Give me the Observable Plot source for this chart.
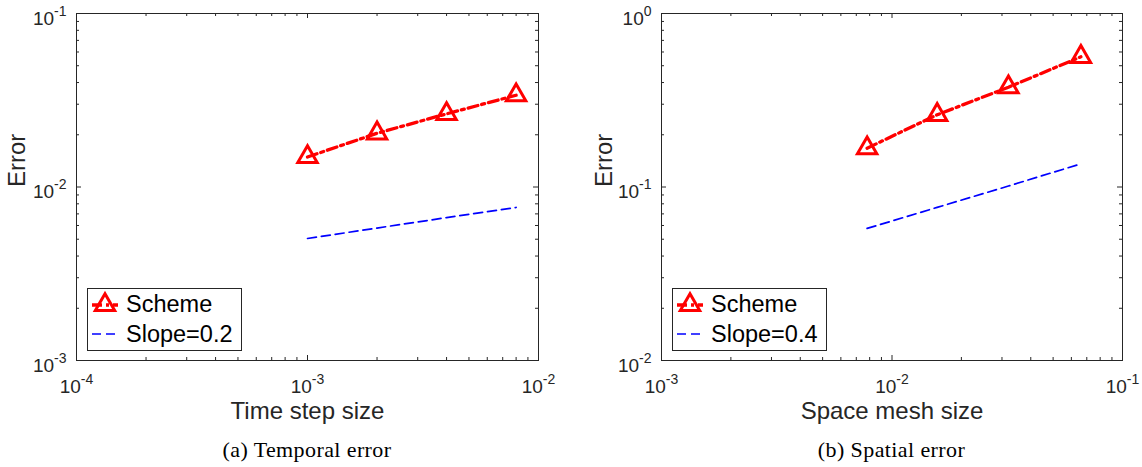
<!DOCTYPE html>
<html><head><meta charset="utf-8">
<script src="https://cdn.jsdelivr.net/npm/d3@7"></script>
<script src="https://cdn.jsdelivr.net/npm/@observablehq/plot@0.6"></script>
<style>
body{margin:0;background:#fff;}
#root{position:relative;width:1142px;height:467px;overflow:hidden;font-family:"Liberation Sans",Arial,sans-serif;}
.panel{position:absolute;top:0;width:571px;height:467px;}
.panel svg.plot{position:absolute;left:0;top:0;}
.caption{position:absolute;top:437px;left:0;width:100%;text-align:center;font-family:"Liberation Serif","DejaVu Serif",serif;font-size:22px;letter-spacing:0.4px;color:#000;white-space:nowrap;}
.legend{position:absolute;top:288px;}
</style>
</head><body><div id="root"></div>
<script>
// ---- data ----
const temporalStep   = [1e-3, 2e-3, 4e-3, 8e-3];
const temporalError  = [0.0149, 0.0204, 0.0264, 0.0338];
const temporalSlope  = [0.00505, 0.0058, 0.00666, 0.00762];
const spatialMesh    = [0.0078, 0.0157, 0.032, 0.066];
const spatialError   = [0.1674, 0.2607, 0.376, 0.563];
const spatialSlope   = [0.0577, 0.0763, 0.1013, 0.136];
const temporalXTicks = [1e-4, 1e-3, 1e-2];
const temporalYTicks = [1e-3, 1e-2, 1e-1];
const spatialXTicks  = [1e-3, 1e-2, 1e-1];
const spatialYTicks  = [1e-2, 1e-1, 1e0];
const seriesNames    = ["Scheme"];
const temporalSlopeName = "Slope=0.2";
const spatialSlopeName  = "Slope=0.4";
const captions = ["(a) Temporal error", "(b) Spatial error"];
const xLabels = ["Time step size", "Space mesh size"];
const yLabel = "Error";

const AX = "#262626";
const W = 571, H = 430, MT = 13, MB = 70;
const FONT = "'Liberation Sans', Arial, sans-serif";

function minorTicks(domain) {
  const out = [];
  const e0 = Math.round(Math.log10(domain[0])), e1 = Math.round(Math.log10(domain[1]));
  for (let e = e0; e < e1; e++) for (let k = 2; k <= 9; k++) out.push(k * Math.pow(10, e));
  return out;
}

function superscriptify(svg) {
  d3.select(svg).selectAll('g[aria-label="x-axis tick label"] text, g[aria-label="y-axis tick label"] text').each(function() {
    const s = this.textContent;
    const [base, exp] = s.split("^");
    const t = d3.select(this);
    t.text(null);
    t.append("tspan").text(base);
    t.append("tspan").attr("font-size", 14).attr("dy", -9).text(exp);
  });
}

function panel(opts) {
  const {left, xDomain, yDomain, xTicks, yTicks, xs, err, slope, xLabel, slopeName, caption, marginLeft, marginRight, yLabelDx} = opts;
  const fw = W - marginLeft - marginRight, fh = H - MT - MB;
  const xMinor = minorTicks(xDomain), yMinor = minorTicks(yDomain);
  const scheme = xs.map((x, i) => ({x, y: err[i]}));
  const ref = xs.map((x, i) => ({x, y: slope[i]}));
  const fmt = d => "10^" + Math.round(Math.log10(d));
  const MJ = 5, MN = 3;
  const plot = Plot.plot({
    width: W, height: H, marginLeft, marginRight, marginTop: MT, marginBottom: MB,
    x: {type: "log", domain: xDomain},
    y: {type: "log", domain: yDomain},
    style: {fontFamily: FONT, color: AX, background: "white", overflow: "visible"},
    marks: [
      // ticks (inside, all four sides)
      Plot.tickX(xTicks, {x: d => d, insetTop: fh - MJ, stroke: AX}),
      Plot.tickX(xTicks, {x: d => d, insetBottom: fh - MJ, stroke: AX}),
      Plot.tickX(xMinor, {x: d => d, insetTop: fh - MN, stroke: AX}),
      Plot.tickX(xMinor, {x: d => d, insetBottom: fh - MN, stroke: AX}),
      Plot.tickY(yTicks, {y: d => d, insetRight: fw - MJ, stroke: AX}),
      Plot.tickY(yTicks, {y: d => d, insetLeft: fw - MJ, stroke: AX}),
      Plot.tickY(yMinor, {y: d => d, insetRight: fw - MN, stroke: AX}),
      Plot.tickY(yMinor, {y: d => d, insetLeft: fw - MN, stroke: AX}),
      Plot.frame({stroke: AX, strokeWidth: 1}),
      Plot.axisX({ticks: xTicks, tickSize: 0, tickPadding: 19, tickFormat: fmt, fontSize: 19, label: null, fill: AX}),
      Plot.axisY({ticks: yTicks, tickSize: 0, tickPadding: 10, tickFormat: fmt, fontSize: 19, label: null, fill: AX, dy: 5}),
      Plot.line(ref, {x: "x", y: "y", stroke: "#0000ff", strokeWidth: 1.7, strokeDasharray: "9,5"}),
      Plot.line(scheme, {x: "x", y: "y", stroke: "#ff0000", strokeWidth: 3.3, strokeDasharray: "10,4,3,4"}),
      Plot.dot(scheme, {x: "x", y: "y", symbol: "triangle", r: 7.2, stroke: "#ff0000", strokeWidth: 3, fill: "none"}),
      Plot.text([xLabel], {frameAnchor: "bottom", dy: 58, fontSize: 24, fill: AX}),
      Plot.text([yLabel], {frameAnchor: "left", rotate: -90, dx: yLabelDx, fontSize: 24, fill: AX})
    ]
  });
  superscriptify(plot);
  const div = document.createElement("div");
  div.className = "panel";
  div.style.left = left + "px";
  div.appendChild(plot);
  // legend
  const lg = d3.create("svg").attr("class", "legend").attr("width", 156).attr("height", 64)
    .style("left", (marginLeft + 11) + "px");
  lg.append("rect").attr("x", 0.5).attr("y", 0.5).attr("width", 154).attr("height", 62)
    .attr("fill", "white").attr("stroke", AX).attr("stroke-width", 1);
  lg.append("line").attr("x1", 5).attr("x2", 31).attr("y1", 17).attr("y2", 17)
    .attr("stroke", "#ff0000").attr("stroke-width", 3.3).attr("stroke-dasharray", "10,4,3,4");
  lg.append("path").attr("d", d3.symbol(d3.symbolTriangle, 7.2 * 7.2 * Math.PI)()).attr("transform", "translate(18,17)")
    .attr("fill", "none").attr("stroke", "#ff0000").attr("stroke-width", 3);
  lg.append("line").attr("x1", 5).attr("x2", 31).attr("y1", 46).attr("y2", 46)
    .attr("stroke", "#0000ff").attr("stroke-width", 1.7).attr("stroke-dasharray", "9,5");
  lg.append("text").attr("x", 39).attr("y", 16).attr("dy", "0.35em").attr("font-size", 23.5)
    .attr("font-family", FONT).text(seriesNames[0]);
  lg.append("text").attr("x", 39).attr("y", 46).attr("dy", "0.35em").attr("font-size", 23.5)
    .attr("font-family", FONT).text(slopeName);
  div.appendChild(lg.node());
  const cap = document.createElement("div");
  cap.className = "caption";
  cap.style.left = (marginLeft + fw / 2 - W / 2) + "px";
  cap.textContent = caption;
  div.appendChild(cap);
  document.getElementById("root").appendChild(div);
}

panel({left: 0, xDomain: [1e-4, 1e-2], yDomain: [1e-3, 1e-1], xTicks: temporalXTicks, yTicks: temporalYTicks,
  xs: temporalStep, err: temporalError, slope: temporalSlope, xLabel: xLabels[0], slopeName: temporalSlopeName,
  caption: captions[0], marginLeft: 76, marginRight: 33, yLabelDx: -59});
panel({left: 571, xDomain: [1e-3, 1e-1], yDomain: [1e-2, 1e0], xTicks: spatialXTicks, yTicks: spatialYTicks,
  xs: spatialMesh, err: spatialError, slope: spatialSlope, xLabel: xLabels[1], slopeName: spatialSlopeName,
  caption: captions[1], marginLeft: 90, marginRight: 20, yLabelDx: -57});
</script>
</body></html>
